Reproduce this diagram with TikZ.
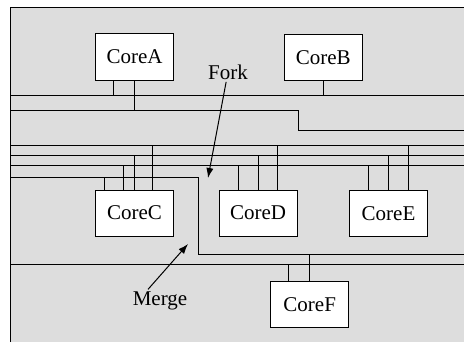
\documentclass[tikz,border=0pt]{standalone}
\usepackage{fontspec}
\setmainfont{Liberation Serif}
\usetikzlibrary{arrows.meta}
\definecolor{panel}{RGB}{221,221,221}

\begin{document}
\begin{tikzpicture}[x=0.5pt,y=-0.5pt,line width=0.5pt,
	core/.style={draw,fill=white,inner sep=0,minimum width=39pt,minimum height=23pt,font=\fontsize{10.5}{12}\selectfont},
	label/.style={inner sep=1pt,font=\fontsize{10.5}{12}\selectfont},
	pointer/.style={-{Latex[length=5pt,width=3.6pt]}}]
	\useasboundingbox (0,0) rectangle (464,342);
	\fill[panel] (10,8) rectangle (464,342);
	\draw (10,342) -- (10,8) -- (464,8);
	% cores
	\node[core] (A) at (134.5,57) {CoreA};
	\node[core] (B) at (323.3,57.3) {CoreB};
	\node[core] (C) at (134.5,213) {CoreC};
	\node[core] (D) at (258,213) {CoreD};
	\node[core] (E) at (388.5,213.5) {CoreE};
	\node[core] (F) at (309.7,304.3) {CoreF};
	% bus ends
	\coordinate (b1) at (10,95);
	\coordinate (b2) at (10,110);
	\coordinate (b3) at (10,145);
	\coordinate (b4) at (10,155);
	\coordinate (b5) at (10,165);
	\coordinate (b6) at (10,177);
	\coordinate (b7) at (10,264.5);
	\coordinate (k2) at (298.7,130.3);
	\coordinate (k6) at (198.7,254.3);
	% buses
	\draw (b1) -- (464,95);
	\draw (b2) -- (k2 |- b2) -- (k2) -- (464,130.3);
	\draw (b3) -- (464,145);
	\draw (b4) -- (464,155);
	\draw (b5) -- (464,165);
	\draw (b6) -- (k6 |- b6) -- (k6) -- (464,254.3);
	\draw (b7) -- (464,264.5);
	% stubs
	\draw ([xshift=-10.6pt]A.south) -- ([xshift=-10.6pt]A.south |- b1);
	\draw (A.south) -- (A.south |- b2);
	\draw (B.south) -- (B.south |- b1);
	\draw ([xshift=-15.1pt]C.north) -- ([xshift=-15.1pt]C.north |- b6);
	\draw ([xshift=-5.6pt]C.north) -- ([xshift=-5.6pt]C.north |- b5);
	\draw (C.north) -- (C.north |- b4);
	\draw ([xshift=8.8pt]C.north) -- ([xshift=8.8pt]C.north |- b3);
	\draw ([xshift=-9.9pt]D.north) -- ([xshift=-9.9pt]D.north |- b5);
	\draw (D.north) -- (D.north |- b4);
	\draw ([xshift=9.6pt]D.north) -- ([xshift=9.6pt]D.north |- b3);
	\draw ([xshift=-9.9pt]E.north) -- ([xshift=-9.9pt]E.north |- b5);
	\draw (E.north) -- (E.north |- b4);
	\draw ([xshift=10.1pt]E.north) -- ([xshift=10.1pt]E.north |- b3);
	\draw ([xshift=-10.5pt]F.north) -- ([xshift=-10.5pt]F.north |- b7);
	\draw (F.north) -- (F.north |- k6);
	% labels
	\node[label] (fork) at (228,72) {Fork};
	\coordinate (forktip) at (208,178);
	\draw[pointer] (fork) -- (forktip);
	\node[label] (merge) at (160,301) {Merge};
	\coordinate (mergetip) at (188,244);
	\draw[pointer] ([xshift=-6pt]merge.north) -- (mergetip);
\end{tikzpicture}
\end{document}
